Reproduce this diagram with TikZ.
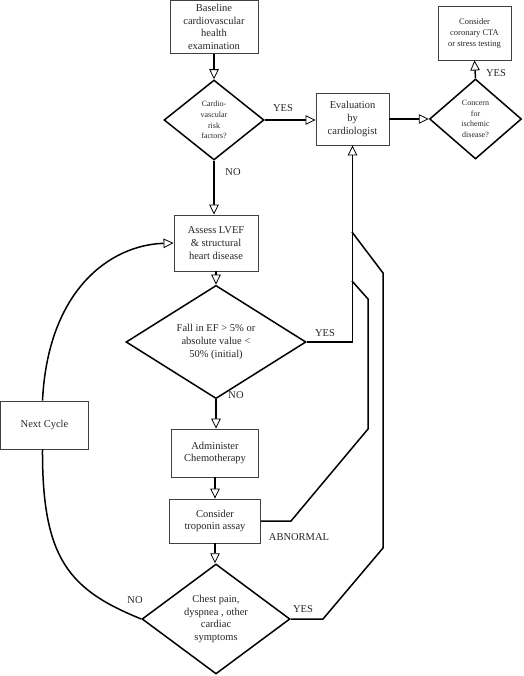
\documentclass[tikz,border=0pt]{standalone}
\usepackage{fontspec}
\setmainfont{Liberation Serif}
\usetikzlibrary{shapes.geometric,arrows.meta}
\newcommand{\fmain}{\fontsize{10.5}{12.6}\selectfont}
\newcommand{\fsmall}{\fontsize{8}{10.6}\selectfont}
\newcommand{\fcta}{\fontsize{8.5}{11}\selectfont}
\begin{document}
\begin{tikzpicture}[x=1pt,y=-1pt,
  box/.style={draw=black!75, line width=0.9pt, fill=white, align=center, inner sep=1pt, text=black!85},
  dia/.style={draw, diamond, line width=1.5pt, inner sep=0pt, align=center, text=black!85},
  conn/.style={line width=1.5pt},
  arr/.style={conn, -{Triangle[open,length=10pt,width=9.5pt,line width=0.8pt,fill=white]}},
  lab/.style={font=\fmain, inner sep=0pt, text=black!85}]
\path[use as bounding box] (0,0) rectangle (523,676);
% boxes
\node[box, font=\fmain, minimum width=88pt, minimum height=53pt] (base) at (214,27) {Baseline\\cardiovascular\\health\\examination};
\node[box, font=\fmain, minimum width=73pt, minimum height=52pt] (eval) at (352.5,119) {Evaluation\\by\\cardiologist};
\node[box, font=\fcta, minimum width=73pt, minimum height=54pt] (cta) at (474.5,33) {Consider\\coronary CTA\\or stress testing};
\node[box, font=\fmain, minimum width=84pt, minimum height=56pt] (assess) at (216,243) {Assess LVEF\\\& structural\\heart disease};
\node[box, font=\fmain, minimum width=87pt, minimum height=48pt] (admin) at (215,453) {Administer\\Chemotherapy};
\node[box, font=\fmain, minimum width=91pt, minimum height=44pt] (trop) at (215,521) {Consider\\troponin assay};
\node[box, font=\fmain, minimum width=88pt, minimum height=48pt] (next) at (44.5,425) {Next Cycle};
% diamonds
\node[dia, font=\fsmall, minimum width=100pt, minimum height=80pt] (d1) at (214,120) {Cardio-\\vascular\\risk\\factors?};
\node[dia, font=\fsmall, minimum width=92pt, minimum height=80pt] (d2) at (475.5,119) {Concern\\for\\ischemic\\disease?};
\node[dia, font=\fmain, minimum width=180pt, minimum height=81pt] (d3) at (216,342) {Fall in EF > 5\% or\\absolute value <\\50\% (initial)};
\node[dia, font=\fmain, aspect=1.345, minimum width=148pt, minimum height=110pt] (d4) at (216,619) {Chest pain,\\dyspnea , other\\cardiac\\symptoms};
% junction coordinates
\coordinate (j1) at (352,281);
\coordinate (j2) at (352,232);
% connectors
\draw[arr] (base.south) -- (d1.north);
\draw[arr] (d1.east) -- (d1.east -| eval.west);
\draw[arr] (eval.east) -- (d2.west);
\draw[arr] (d2.north) -- (cta.south);
\draw[arr] (d1.south) -- (d1.south |- assess.north);
\draw[arr] (assess.south) -- (d3.north);
\draw[arr] (d3.east) -- (eval.south |- d3.east) -- (eval.south);
\draw[arr] (d3.south) -- (d3.south |- admin.north);
\draw[arr] (admin.south) -- (admin.south |- trop.north);
\draw[arr] (trop.south) -- (trop.south |- d4.north);
\draw[conn] (trop.east) -- (291,521) -- (368,429) -- (368,299) -- (j1);
\draw[conn] (d4.east) -- (323,619) -- (383,548) -- (383,273) -- (j2);
\draw[conn] (d4.west) .. controls (70,590) and (42,560) .. ([xshift=-2pt]next.south);
\draw[arr] ([xshift=-2pt]next.north) .. controls (48,290) and (110,245) .. (assess.west);
% labels
\node[lab] (l1) at (283,108) {YES};
\node[lab] (l2) at (233,172) {NO};
\node[lab] (l3) at (496,73) {YES};
\node[lab] (l4) at (325,333) {YES};
\node[lab] (l5) at (236,395) {NO};
\node[lab] (l6) at (299,537) {ABNORMAL};
\node[lab] (l7) at (135,600) {NO};
\node[lab] (l8) at (303,609) {YES};
\end{tikzpicture}
\end{document}
